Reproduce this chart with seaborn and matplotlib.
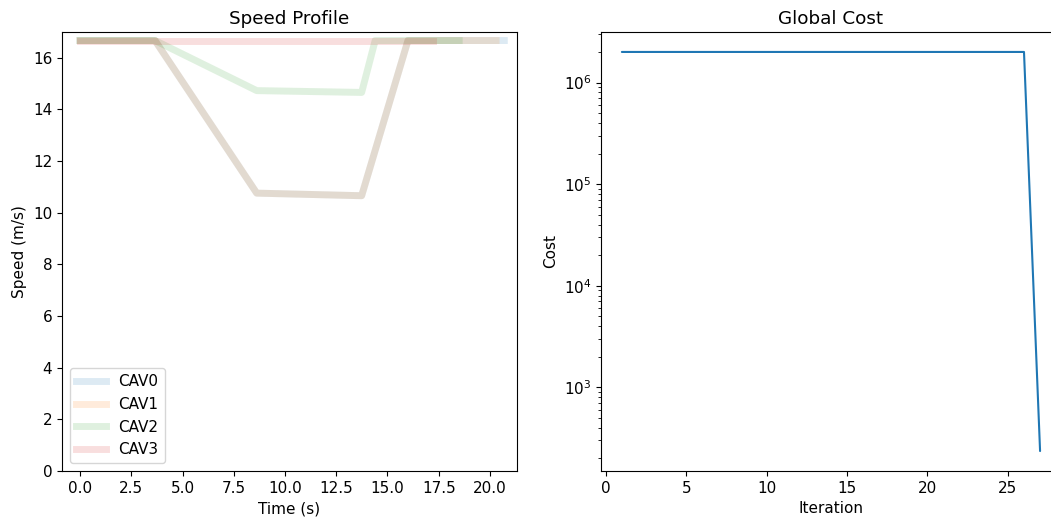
import matplotlib
matplotlib.use("Agg")
import matplotlib.pyplot as plt
import seaborn as sns
import numpy as np

# Speed profiles (time in s, speed in m/s) for each connected vehicle
cav_names = ["CAV0", "CAV1", "CAV2", "CAV3"]
cav0_time = [0.0, 3.66, 8.62, 13.74, 16.0, 20.7]
cav0_speed = [16.67, 16.67, 10.76, 10.66, 16.67, 16.67]
cav1_time = [0.0, 3.66, 8.62, 13.74, 16.0, 20.3]
cav1_speed = [16.67, 16.67, 10.76, 10.66, 16.67, 16.67]
cav2_time = [0.0, 3.66, 8.62, 13.74, 14.4, 18.5]
cav2_speed = [16.67, 16.67, 14.73, 14.66, 16.67, 16.67]
cav3_time = [0.0, 17.2]
cav3_speed = [16.67, 16.67]

# Global cost per optimisation iteration
iterations = list(range(1, 28))
global_cost = [2.0e6] * 26 + [236.0]

sns.set_style("ticks")
plt.rcParams["font.family"] = ["DejaVu Sans"]
plt.rcParams.update({
    "axes.titlesize": 13.2,
    "axes.labelsize": 11,
    "xtick.labelsize": 11,
    "ytick.labelsize": 11,
    "legend.fontsize": 11,
    "text.color": "black",
    "axes.labelcolor": "black",
    "xtick.color": "black",
    "ytick.color": "black",
    "axes.edgecolor": "black",
})

palette = sns.color_palette("tab10")

fig = plt.figure(figsize=(10.51, 5.22), dpi=100)
ax1 = fig.add_axes([0.0590, 0.0977, 0.4329, 0.841])
ax2 = fig.add_axes([0.5718, 0.0977, 0.4377, 0.841])

profiles = [
    (cav0_time, cav0_speed),
    (cav1_time, cav1_speed),
    (cav2_time, cav2_speed),
    (cav3_time, cav3_speed),
]
for i, (name, (t, v)) in enumerate(zip(cav_names, profiles)):
    sns.lineplot(x=t, y=v, ax=ax1, color=palette[i], linewidth=5,
                 alpha=0.15, label=name, sort=False, estimator=None,
                 solid_capstyle="projecting")

ax1.set_xlim(-0.88, 21.32)
ax1.set_ylim(0, 17)
ax1.set_yticks(range(0, 17, 2))
ax1.set_xticks(np.arange(0, 20.1, 2.5))
ax1.set_xlabel("Time (s)")
ax1.set_ylabel("Speed (m/s)")
ax1.set_title("Speed Profile")
ax1.legend(loc="lower left")

sns.lineplot(x=iterations, y=global_cost, ax=ax2, color=palette[0],
             linewidth=1.5)
ax2.set_yscale("log")
ax2.set_xticks(range(0, 26, 5))
ax2.set_xlabel("Iteration")
ax2.set_ylabel("Cost")
ax2.set_title("Global Cost")

for ax in (ax1, ax2):
    for s in ax.spines.values():
        s.set_color("black")
        s.set_linewidth(0.8)
    ax.tick_params(direction="out", length=3.5, width=0.8, colors="black")

fig.savefig("out.png", dpi=100)
